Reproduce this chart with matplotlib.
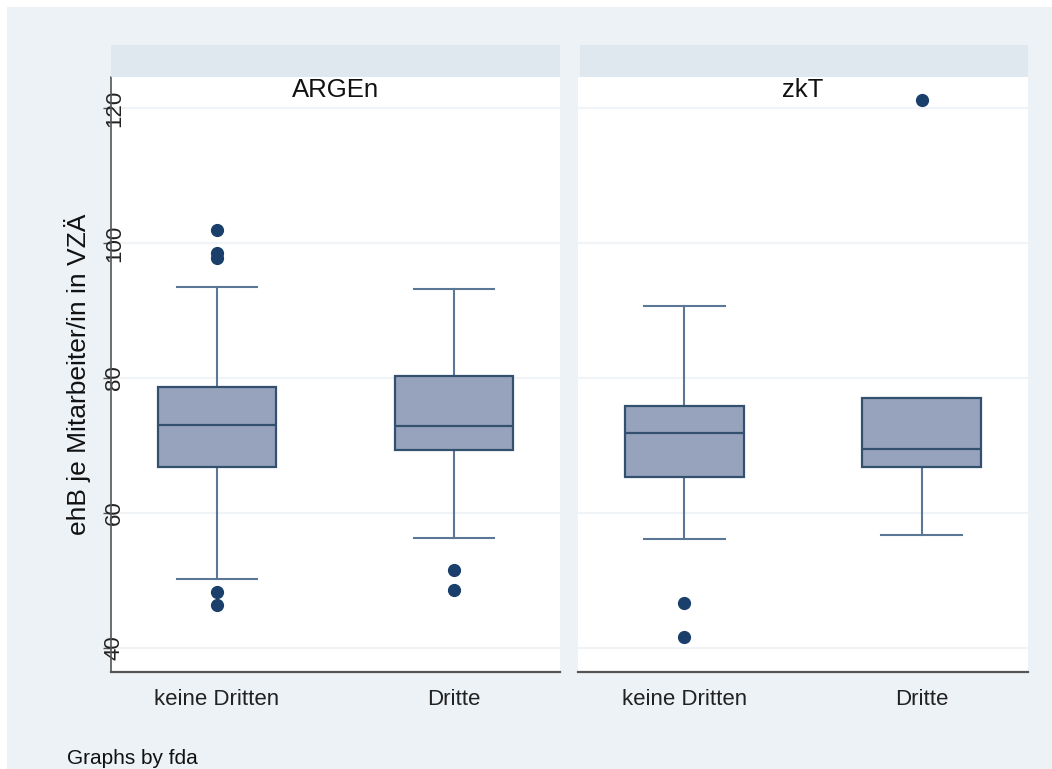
import numpy as np
import matplotlib.pyplot as plt
from matplotlib.patches import Rectangle

plt.rcParams['font.family'] = ['Liberation Sans', 'DejaVu Sans']

# box plot summaries
groups = ['keine Dritten', 'Dritte']
panels = ['ARGEn', 'zkT']
q1 = {'ARGEn': [66.8, 69.3], 'zkT': [65.3, 66.8]}
med = {'ARGEn': [73.0, 72.9], 'zkT': [71.9, 69.5]}
q3 = {'ARGEn': [78.7, 80.3], 'zkT': [75.9, 77.0]}
whislo = {'ARGEn': [50.2, 56.3], 'zkT': [56.1, 56.7]}
whishi = {'ARGEn': [93.5, 93.2], 'zkT': [90.7, 77.0]}
fliers = {'ARGEn': [[101.9, 98.5, 97.8, 48.3, 46.4], [51.6, 48.6]],
          'zkT': [[46.7, 41.6], [121.2]]}
yticks = [40, 60, 80, 100, 120]

bg = '#edf2f6'
band = '#dfe7ef'
fill = '#97a3bc'
edge = '#34506f'
whisk = '#5b7795'
dot = '#1a3f6b'

W, H = 1052, 769
fig = plt.figure(figsize=(W / 100, H / 100), dpi=100, facecolor='white')
fig.patches.append(Rectangle((7 / W, 0), 1, 1 - 7 / H, transform=fig.transFigure,
                             facecolor=bg, edgecolor='none', zorder=-10))

boxes = [(111, 560), (578, 1028)]
for i, (name, (x0, x1)) in enumerate(zip(panels, boxes)):
    ax = fig.add_axes([x0 / W, 1 - 672 / H, (x1 - x0) / W, 595 / H])
    ax.set_facecolor('white')
    stats = []
    for j, g in enumerate(groups):
        stats.append(dict(q1=q1[name][j], med=med[name][j], q3=q3[name][j],
                          whislo=whislo[name][j], whishi=whishi[name][j],
                          fliers=fliers[name][j], label=g))
    ax.bxp(stats, positions=[1, 2], widths=0.5, patch_artist=True,
           boxprops=dict(facecolor=fill, edgecolor=edge, linewidth=1.6, zorder=3),
           medianprops=dict(color=edge, linewidth=1.6, zorder=4),
           whiskerprops=dict(color=whisk, linewidth=1.5, zorder=2),
           capprops=dict(color=whisk, linewidth=1.5, zorder=2),
           capwidths=0.34,
           flierprops=dict(marker='o', markerfacecolor=dot, markeredgecolor=dot,
                           markersize=8.5))
    ax.set_xlim(0.553, 2.447)
    ax.set_ylim(36.44, 124.6)
    ax.set_yticks(yticks)
    for t in yticks:
        ax.axhline(t, color='#f1f4f7', linewidth=1.5, zorder=0)
    ax.tick_params(axis='x', length=0, labelsize=16, pad=12, colors='#222222')
    ax.set_xticks([1, 2])
    ax.set_xticklabels(groups)
    for s in ['top', 'right']:
        ax.spines[s].set_visible(False)
    ax.spines['bottom'].set_color('#555555')
    ax.spines['bottom'].set_linewidth(1.6)
    if i == 0:
        ax.spines['left'].set_color('#555555')
        ax.spines['left'].set_linewidth(1.2)
        ax.tick_params(axis='y', length=6, width=1, pad=-16, labelsize=16,
                       colors='#555555', labelcolor='#222222')
        for lab in ax.get_yticklabels():
            lab.set_rotation(90)
            lab.set_va('center')
        ax.set_ylabel('ehB je Mitarbeiter/in in VZÄ', fontsize=19, color='#111111')
        ax.yaxis.set_label_coords(-0.045, 0.5)
    else:
        ax.spines['left'].set_visible(False)
        ax.tick_params(axis='y', length=0, labelleft=False)
    ax.text(0.5, 1 - 13 / 595, name, transform=ax.transAxes, ha='center',
            va='center', fontsize=18.5, color='#111111')
    # header band above each panel
    bx0 = x0 if i == 0 else 580
    fig.patches.append(Rectangle((bx0 / W, 1 - 77 / H), (x1 - bx0) / W, 32 / H,
                                 transform=fig.transFigure, facecolor=band,
                                 edgecolor='none'))

fig.text(67 / W, 1 - 758 / H, 'Graphs by fda', fontsize=15, va='center',
         color='#111111')

fig.savefig('out.png', dpi=100, facecolor=fig.get_facecolor())
